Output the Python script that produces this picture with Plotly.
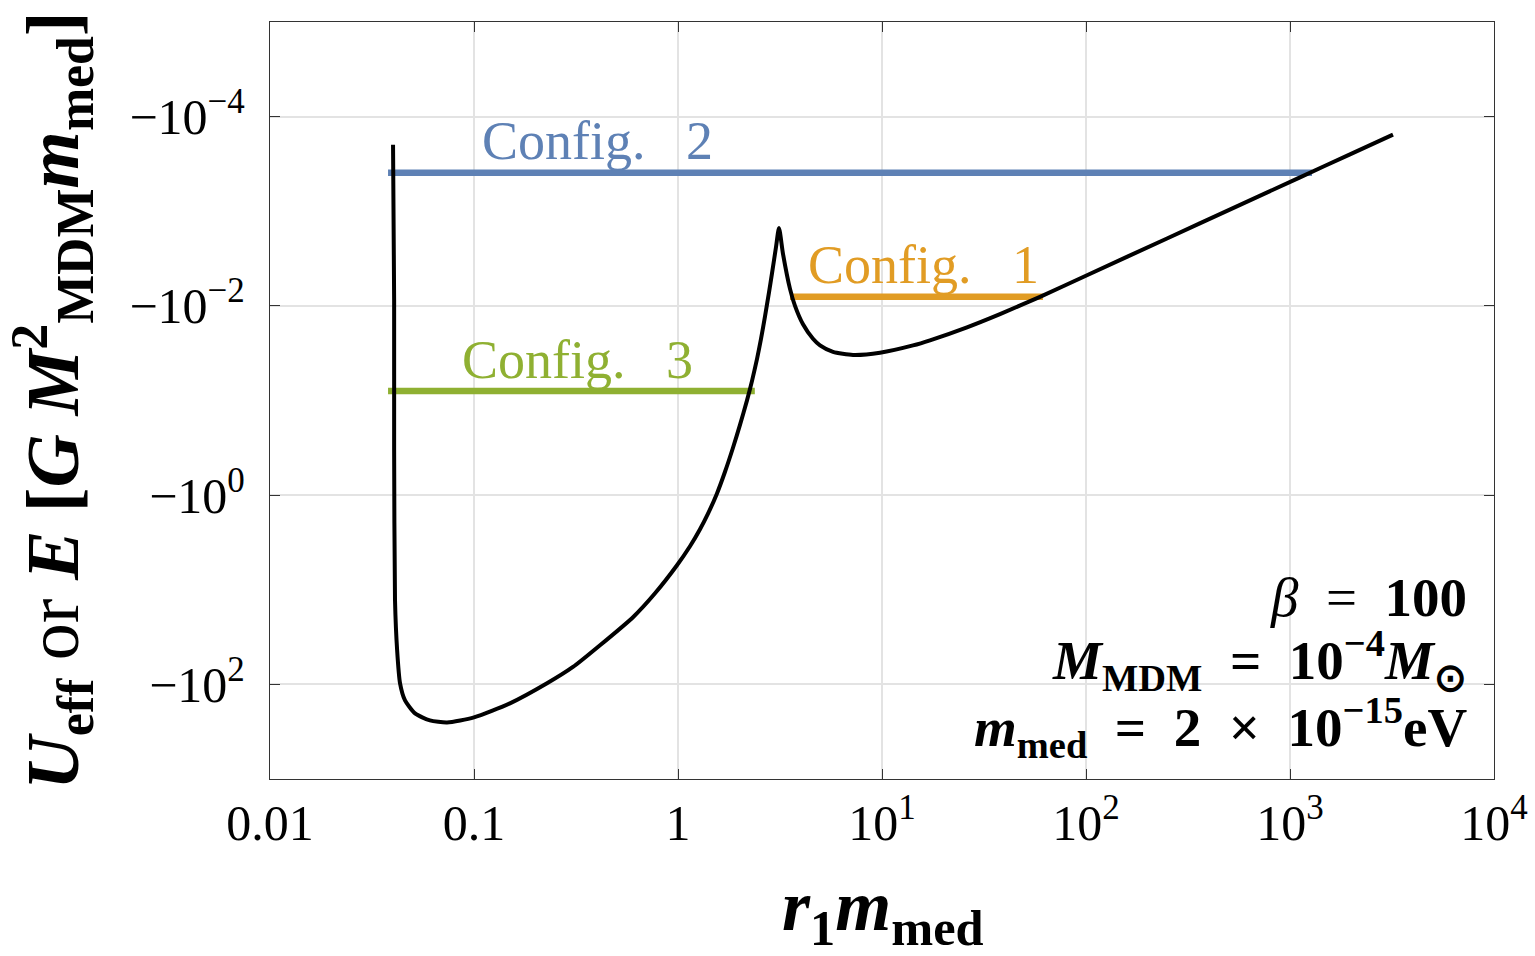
import plotly.graph_objects as go

# ---- data ----
r_curve = [0.0401, 0.0406, 0.0406, 0.0410, 0.0420, 0.0434, 0.0459, 0.0514, 0.0608, 0.0738,
           0.100, 0.150, 0.228, 0.3056, 0.4146, 0.6018, 0.7717, 0.9888, 1.145, 1.282, 1.403,
           1.553, 1.700, 1.860, 2.013, 2.179, 2.306, 2.440, 2.552, 2.670, 2.793,
           2.889, 3.023, 3.126,
           3.271, 3.540, 3.746, 4.100, 4.590, 4.968, 5.752, 7.210, 9.777, 14.19,
           17.19, 26.10, 37.88, 59.50, 101.1, 249.5, 525.6, 1119.6, 1968.0, 3198.0]
U_curve = [-1.98e-4, -8.65e-3, -0.334, -12.9, -43.6, -97.5, -147.6, -202.8, -240.4, -252.4,
           -223.4, -158.9, -97.5, -65.5, -38.6, -19.5, -10.9, -5.51, -3.473, -2.295, -1.570,
           -0.9594, -0.5666, -0.3158, -0.1812, -0.09975, -0.06203, -0.03628, -0.02229, -0.01291, -7.20e-3,
           -4.54e-3, -2.387e-3, -1.50e-3,
           -2.816e-3, -6.61e-3, -0.0100, -0.01566, -0.02229, -0.02618, -0.03068, -0.03299, -0.03126, -0.02618,
           -0.02312, -0.01684, -0.01221, -8.03e-3, -4.745e-3, -1.940e-3, -9.27e-4, -4.38e-4, -2.505e-4, -1.55e-4]

config_names = ["Config.\u00a0\u00a0 2", "Config.\u00a0\u00a0 1", "Config.\u00a0\u00a0 3"]
config_E = [-3.92e-4, -8.03e-3, -0.0793]
config_rmin = [0.0379, 3.54, 0.0379]
config_rmax = [1282.0, 61.5, 2.38]
config_colors = ["#5E81B5", "#E19C24", "#8FB032"]

x_tickvals = [0.01, 0.1, 1, 10, 100, 1000, 10000]
x_ticktext = ["0.01", "0.1", "1", "10<sup>1</sup>", "10<sup>2</sup>", "10<sup>3</sup>", "10<sup>4</sup>"]
y_tickvals = [1e-4, 1e-2, 1, 1e2]
y_ticktext = ["\u221210<sup>\u22124</sup>", "\u221210<sup>\u22122</sup>", "\u221210<sup>0</sup>", "\u221210<sup>2</sup>"]

SERIF = "Liberation Serif"

fig = go.Figure()

for name, E, r0, r1, c in zip(config_names, config_E, config_rmin, config_rmax, config_colors):
    fig.add_trace(go.Scatter(x=[r0, r1], y=[-E, -E], mode="lines",
                             line=dict(color=c, width=6.5), showlegend=False, hoverinfo="skip"))

fig.add_trace(go.Scatter(x=r_curve, y=[-u for u in U_curve], mode="lines",
                         line=dict(color="black", width=4, shape="spline", smoothing=0.6),
                         showlegend=False))

axis_common = dict(showline=True, linecolor="#333333", linewidth=1.3, mirror="ticks",
                   ticks="inside", ticklen=10, tickwidth=1.3, tickcolor="#333333",
                   showgrid=True, gridcolor="#e3e3e3", gridwidth=1.5, zeroline=False,
                   automargin=False,
                   tickfont=dict(family=SERIF, size=50, color="black"))

fig.update_xaxes(type="log", range=[-2, 4], tickvals=x_tickvals, ticktext=x_ticktext,
                 ticklabelstandoff=0, **axis_common)
fig.update_yaxes(type="log", range=[3, -5], tickvals=y_tickvals, ticktext=y_ticktext,
                 ticklabelstandoff=14, **axis_common)

annotations = []
# config labels
label_pos = [(0.1716, 0.8428), (0.4379, 0.679), (0.1552, 0.5535)]
for name, c, (px, py) in zip(config_names, config_colors, label_pos):
    annotations.append(dict(text=name, x=px, y=py, xref="paper", yref="paper",
                            xanchor="left", yanchor="middle", showarrow=False,
                            font=dict(family=SERIF, size=54, color=c)))

# parameter text
sp = "\u2002"
param_lines = [f"<i>\u03b2</i>{sp}={sp}<b>100</b>",
               f"<b><i>M</i><sub>MDM</sub>{sp}={sp}10<sup>\u22124</sup><i>M</i><sub>\u2299</sub></b>",
               f"<b><i>m</i><sub>med</sub>{sp}={sp}2{sp}\u00d7{sp}10<sup>\u221215</sup>eV</b>"]
param_y = [0.2404, 0.157, 0.0674]
for t, yy in zip(param_lines, param_y):
    annotations.append(dict(text=t, x=0.9795, y=yy, xref="paper", yref="paper",
                            xanchor="right", yanchor="middle", showarrow=False,
                            font=dict(family=SERIF, size=55, color="black")))

# axis titles
annotations.append(dict(text="<b><i>U</i><sub>eff</sub></b> or <b><i>E</i> [<i>G M</i><sup>2</sup><sub>MDM</sub><i>m</i><sub>med</sub>]</b>",
                        x=-0.178, y=0.5, xref="paper", yref="paper", textangle=-90,
                        xanchor="center", yanchor="middle", showarrow=False,
                        font=dict(family=SERIF, size=74, color="black")))
annotations.append(dict(text="<b><i>r</i><sub>1</sub><i>m</i><sub>med</sub></b>",
                        x=0.501, y=-0.236, xref="paper", yref="paper",
                        xanchor="center", yanchor="bottom", showarrow=False,
                        font=dict(family=SERIF, size=72, color="black")))

fig.update_layout(width=1535, height=956, margin=dict(l=270, r=41, t=22, b=177),
                  paper_bgcolor="white", plot_bgcolor="white",
                  annotations=annotations, showlegend=False)

fig.write_html("out.html")
